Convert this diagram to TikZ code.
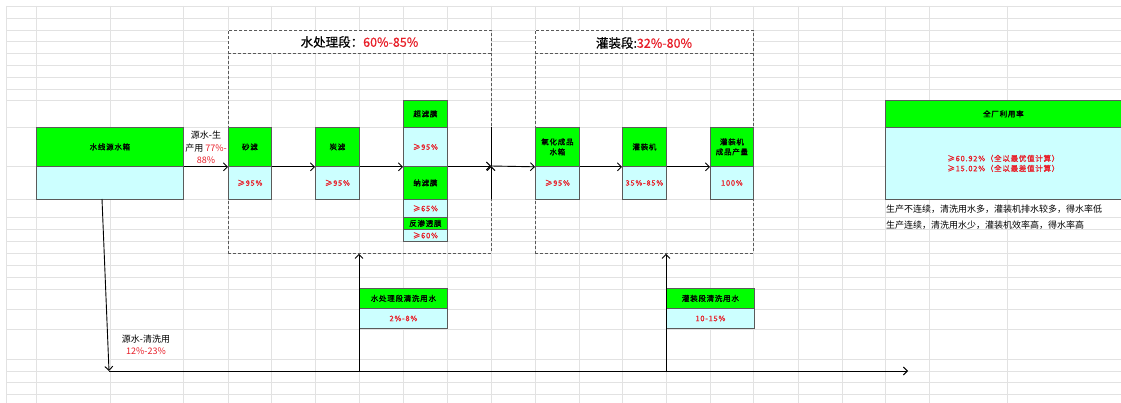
\documentclass[tikz,border=0pt]{standalone}
\usepackage{fontspec}
\setmainfont{Noto Sans CJK SC}
\newfontfamily\bxfont[LetterSpace=10,FakeBold=1.2]{Noto Sans CJK SC}
\newfontfamily\ttlfont[FakeBold=0.6]{Noto Sans CJK SC}
\usetikzlibrary{arrows.meta}
\definecolor{gridc}{RGB}{226,226,226}
\definecolor{gfill}{RGB}{0,255,0}
\definecolor{cfill}{RGB}{204,255,255}
\definecolor{bord}{RGB}{90,90,90}
\definecolor{redt}{RGB}{232,30,40}
\begin{document}
\begin{tikzpicture}[x=1pt,y=-1pt,
  gbox/.style={draw=bord, line width=0.8pt, fill=gfill, inner sep=0pt, font=\bxfont\fontsize{7.5}{10}\selectfont, align=center, anchor=north west},
  cbox/.style={gbox, fill=cfill, text=redt},
  arr/.style={line width=0.9pt, -{Straight Barb[length=4pt,width=8pt]}},
  line/.style={line width=0.9pt},
  dbox/.style={draw=black!65, dash pattern=on 3pt off 2pt, line width=0.8pt, inner sep=0pt, anchor=north west},
  lbl/.style={font=\fontsize{9}{12.5}\selectfont, align=center, inner sep=0pt},
  ttl/.style={font=\ttlfont\fontsize{12.5}{15}\selectfont, inner sep=0pt},
  note/.style={font=\fontsize{9}{11}\selectfont, anchor=west, inner sep=0pt}]
\useasboundingbox (0,0) rectangle (1121,403);
\fill[white] (0,0) rectangle (1121,403);
% spreadsheet grid
\foreach \x in {6,36,110,183,228,271,315,359,403,447,491,535,579,622,666,710,753,798,842,885,929,1007}
  \draw[gridc, line width=0.8pt] (\x,6) -- (\x,403);
\foreach \y in {6,18,30,41,53,65,77,89,100,127,166,199,217,229,241,253,265,277,289,309,329,359,371,382,394}
  \draw[gridc, line width=0.8pt] (6,\y) -- (1121,\y);
% section frames
\fill[white] (228,30) rectangle (491,53);
\fill[white] (535,30) rectangle (753,53);
\node[dbox, minimum width=263pt, minimum height=223pt] (wsec) at (228,30) {};
\draw[draw=black!65, dash pattern=on 3pt off 2pt, line width=0.8pt] (228,53) -- (491,53);
\node[dbox, minimum width=218pt, minimum height=223pt] (fsec) at (535,30) {};
\draw[draw=black!65, dash pattern=on 3pt off 2pt, line width=0.8pt] (535,53) -- (753,53);
\node[ttl] (wtitle) at (359.5,42) {水处理段：\textcolor{redt}{60\%-85\%}};
\node[ttl] (ftitle) at (644,43) {灌装段:\textcolor{redt}{32\%-80\%}};
% source tank
\node[gbox, minimum width=147pt, minimum height=39pt] (srcg) at (36,127) {水线源水箱};
\node[cbox, minimum width=147pt, minimum height=33pt] (srcc) at (36,166) {};
% water treatment
\node[gbox, minimum width=43pt, minimum height=39pt] (sandg) at (228,127) {砂滤};
\node[cbox, minimum width=43pt, minimum height=33pt] (sandc) at (228,166) {≥95\%};
\node[gbox, minimum width=44pt, minimum height=39pt] (carbg) at (315,127) {炭滤};
\node[cbox, minimum width=44pt, minimum height=33pt] (carbc) at (315,166) {≥95\%};
\node[gbox, minimum width=44pt, minimum height=27pt] (ufg) at (403,100) {超滤膜};
\node[cbox, minimum width=44pt, minimum height=39pt] (ufc) at (403,127) {≥95\%};
\node[gbox, minimum width=44pt, minimum height=33pt] (nfg) at (403,166) {纳滤膜};
\node[cbox, minimum width=44pt, minimum height=18pt] (nfc) at (403,199) {≥65\%};
\node[gbox, minimum width=44pt, minimum height=12pt] (rog) at (403,217) {反渗透膜};
\node[cbox, minimum width=44pt, minimum height=12pt] (roc) at (403,229) {≥60\%};
% filling
\node[gbox, minimum width=44pt, minimum height=39pt] (oxg) at (535,127) {氧化成品\\水箱};
\node[cbox, minimum width=44pt, minimum height=33pt] (oxc) at (535,166) {≥95\%};
\node[gbox, minimum width=44pt, minimum height=39pt] (fillg) at (622,127) {灌装机};
\node[cbox, minimum width=44pt, minimum height=33pt] (fillc) at (622,166) {35\%-85\%};
\node[gbox, minimum width=43pt, minimum height=39pt] (prodg) at (710,127) {灌装机\\成品产量};
\node[cbox, minimum width=43pt, minimum height=33pt] (prodc) at (710,166) {100\%};
% washing water
\node[gbox, minimum width=88pt, minimum height=20pt] (wwg) at (359,288) {水处理段清洗用水};
\node[cbox, minimum width=88pt, minimum height=20pt] (wwc) at (359,308) {2\%-8\%};
\node[gbox, minimum width=88pt, minimum height=20pt] (fwg) at (666,288) {灌装段清洗用水};
\node[cbox, minimum width=88pt, minimum height=20pt] (fwc) at (666,308) {10-15\%};
% whole plant
\node[gbox, minimum width=236pt, minimum height=27pt] (totg) at (885,100) {全厂利用率};
\node[cbox, minimum width=236pt, minimum height=72pt] (totc) at (885,127) {≥60.92\%（全以最优值计算）\\≥15.02\%（全以最差值计算）};
\node[note] (n1) at (886,209) {生产不连续，清洗用水多，灌装机排水较多，得水率低};
\node[note] (n2) at (886,225) {生产连续，清洗用水少，灌装机效率高，得水率高};
% labels
\node[lbl] (l1) at (206,147.5) {源水-生\\产用 \textcolor{redt}{77\%-}\\\textcolor{redt}{88\%}};
\node[lbl] (l2) at (146,345) {源水-清洗用\\\textcolor{redt}{12\%-23\%}};
% coordinates
\coordinate (jn) at (491,166);
\coordinate (jt) at (491,127);
\coordinate (jb) at (491,199);
\coordinate (s0) at (102,199);
\coordinate (cl) at (109,371);
\coordinate (cend) at (908,371);
\coordinate (w1) at (359,371);
\coordinate (w2) at (666,371);
% connectors
\draw[arr] (srcg.south east) -- (sandg.south west);
\draw[arr] (sandg.south east) -- (carbg.south west);
\draw[arr] (carbg.south east) -- (ufc.south west);
\draw[arr] (nfg.north east) -- (jn);
\draw[line] (jt) -- (jn);
\draw[arr] (jb) -- (jn);
\draw[arr] (jn) -- (oxg.south west);
\draw[arr] (oxg.south east) -- (fillg.south west);
\draw[arr] (fillg.south east) -- (prodg.south west);
\draw[arr] (s0) -- (cl);
\draw[arr] (cl) -- (cend);
\draw[arr] (w1) -- (w1 |- wsec.south);
\draw[arr] (w2) -- (w2 |- fsec.south);
\end{tikzpicture}
\end{document}
